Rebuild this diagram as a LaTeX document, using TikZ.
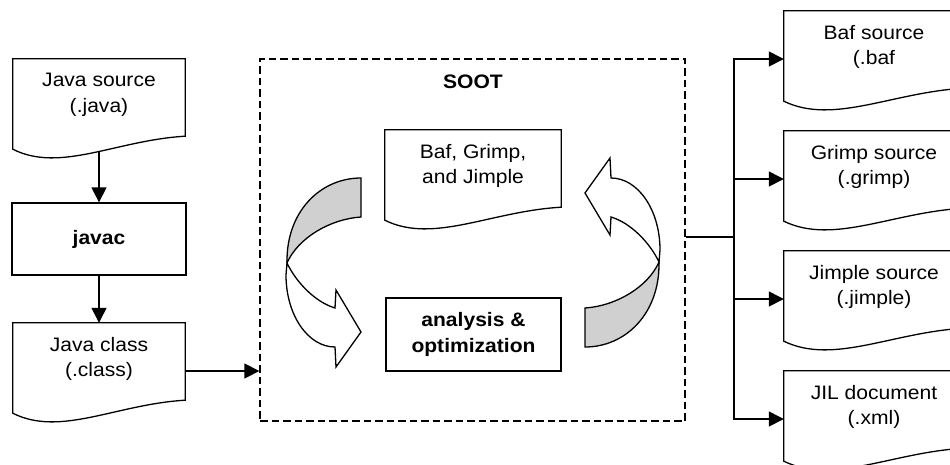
\documentclass[tikz,border=0pt]{standalone}
\usepackage{fontspec}
\setmainfont{Liberation Sans}[FakeStretch=1.08]
\usetikzlibrary{arrows.meta,calc}

\definecolor{ribbongray}{RGB}{208,208,208}

\tikzset{
  base/.style={line width=1.3pt, line join=miter},
  arr/.style={base, -{Triangle[length=15pt,width=15pt]}},
  txt/.style={font=\fontsize{19.5}{25.5}\selectfont, align=center, inner sep=0pt},
  procbox/.style={txt, draw, line width=1.3pt, minimum height=72pt, font=\fontsize{19.5}{25.5}\selectfont\bfseries},
  docbox/.style={txt, minimum height=72pt},
  twistarrow/.pic={
    \draw[base, fill=ribbongray]
      (-112,-84.5) .. controls (-153,-84.5) and (-187,-50.5) .. (-186,0.5)
      .. controls (-175,-24.5) and (-143,-43.5) .. (-112,-45.5) -- cycle;
    \draw[base, fill=white]
      (-186,0.5) .. controls (-177,19.5) and (-158,39.5) .. (-138,45.5)
      -- (-137,27.5) -- (-112,69.5) -- (-137,104.5) -- (-138,84.5)
      .. controls (-165,84.5) and (-187,52.5) .. (-187,12.5) -- cycle;
  }
}

% document symbol round a docbox node: straight top and sides, wavy bottom edge
\newcommand\docoutline[1]{%
  \draw[base] (#1.north west) -- (#1.north east)
    -- ([yshift=-5pt]#1.south east)
    .. controls ($(#1.south west)!0.6!(#1.south east)+(0,-9pt)$)
       and ($(#1.south west)!0.275!(#1.south east)+(0,-42pt)$)
    .. ([yshift=-18pt]#1.south west) -- cycle;}

\begin{document}
\begin{tikzpicture}[x=1pt,y=-1pt]
\useasboundingbox (0,0) rectangle (950,464);
\clip (0,0) rectangle (950,464);
\fill[white] (0,0) rectangle (950,464);

% compiler chain on the left
\node[docbox, minimum width=172pt] (jsrc) at (99,95) {Java source\\(.java)};
\node[procbox, minimum width=174pt] (javac) at (99,239) {javac};
\node[docbox, minimum width=172pt] (jcls) at (99,359) {Java class\\(.class)};

% Soot framework
\node[draw, base, dash pattern=on 7.5pt off 4pt, minimum width=425pt, minimum height=362pt, inner sep=0pt] (soot) at (472.5,240) {};
\node[txt, font=\fontsize{19.5}{25.5}\selectfont\bfseries] (sootlbl) at (473,82) {SOOT};
\node[docbox, minimum width=176pt] (ir) at (473,166) {Baf, Grimp,\\and Jimple};
\node[procbox, minimum width=175pt, minimum height=73pt] (opt) at (473.5,334.5) {analysis \&\\optimization};
\pic at (473,262.5) {twistarrow};
\pic[rotate=180] at (473,262.5) {twistarrow};

% output formats (running off the right edge)
\node[docbox, minimum width=180pt] (baf) at (874,47) {Baf source\\(.baf};
\node[docbox, minimum width=180pt] (grimp) at (874,167) {Grimp source\\(.grimp)};
\node[docbox, minimum width=180pt] (jimple) at (874,287) {Jimple source\\(.jimple)};
\node[docbox, minimum width=180pt] (jil) at (874,407) {JIL document\\(.xml)};

\foreach \d in {jsrc,jcls,ir,baf,grimp,jimple,jil}{\docoutline{\d}}

% connectors
\coordinate (jsrcB) at ([yshift=-20pt]jsrc.south);
\draw[arr] (jsrcB) -- (javac.north);
\draw[arr] (javac.south) -- (jcls.north);
\coordinate (jclsOut) at ([yshift=-12pt]jcls.east);
\draw[arr] (jclsOut) -- (jclsOut -| soot.west);

\coordinate (fork) at (734,237);
\draw[base] (fork -| soot.east) -- (fork);
\foreach \d in {baf,grimp,jimple,jil}{
  \coordinate (\d In) at ([yshift=-12pt]\d.west);
  \draw[arr] (fork) |- (\d In);
}
\end{tikzpicture}
\end{document}
